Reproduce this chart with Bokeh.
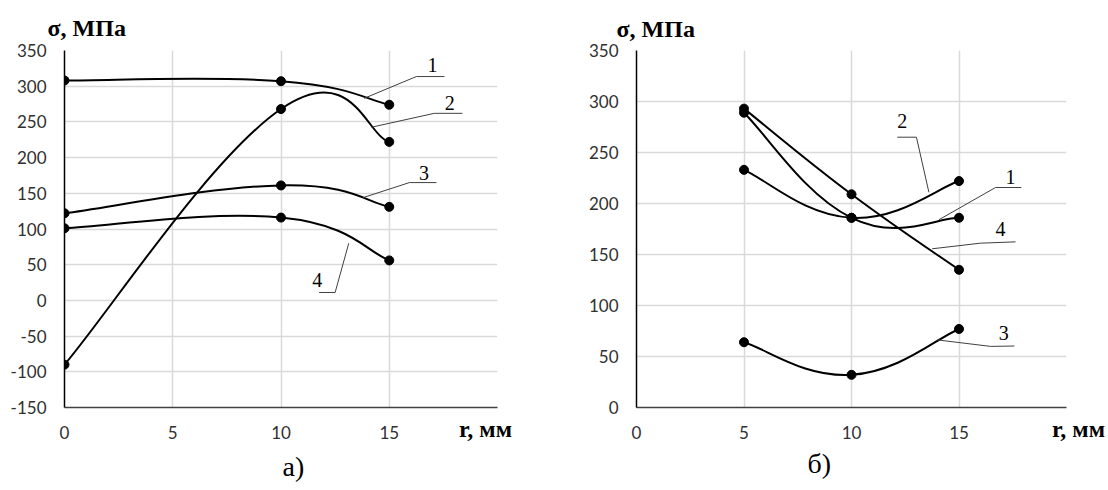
from bokeh.plotting import figure
from bokeh.layouts import row
from bokeh.models import Range1d, FixedTicker, Label, ColumnDataSource, Title
from bokeh.embed import file_html
from bokeh.resources import INLINE

# ---------------- data ----------------
r_a_pts = [0, 10, 15]
a_s1 = [308, 307, 274]
a_s2 = [-90, 268, 222]
a_s3 = [122, 161, 131]
a_s4 = [101, 116, 56]

r_b_pts = [5, 10, 15]
b_s1 = [289, 186, 186]
b_s2 = [233, 186, 222]
b_s3 = [64, 32, 77]
b_s4 = [293, 209, 135]

x_ticks = [0, 5, 10, 15, 20]
y_ticks_a = [-150, -100, -50, 0, 50, 100, 150, 200, 250, 300, 350]
y_ticks_b = [0, 50, 100, 150, 200, 250, 300, 350]

y_title = "σ, МПа"
x_title = "r, мм"
captions = ["а)", "б)"]

# ---------------- styling / layout ----------------
TICK_FONT = "Lato"
SERIF = "Liberation Serif"
GRID = "#d9d9d9"
NBSP = "\u00a0"

# callout geometry (data coordinates): text position and leader path
callouts_a = {
    "1": ((17.0, 329), [13.84, 16.25, 17.55], [283, 313.5, 313.5]),
    "2": ((17.8, 277), [14.17, 17.08, 18.38], [242.5, 262, 262]),
    "3": ((16.6, 179), [13.8, 15.93, 17.18], [144, 165, 165]),
    "4": ((11.68, 28.5), [13.13, 12.5, 11.76], [80, 11.1, 11.1]),
}
callouts_b = {
    "2": ((12.36, 280.7), [13.6, 13.02, 12.13], [211, 265, 265]),
    "1": ((17.4, 226), [14.06, 16.7, 17.9], [184, 215.7, 215.7]),
    "4": ((16.93, 174.7), [13.75, 16.0, 17.63], [155.6, 161.1, 162.4]),
    "3": ((17.08, 72.8), [13.98, 16.47, 17.58], [66.3, 59.9, 60.3]),
}


def smooth_segments(xs, ys, f=0.22):
    n = len(xs)
    d = dict(x0=[], y0=[], x1=[], y1=[], cx0=[], cy0=[], cx1=[], cy1=[])
    for i in range(n - 1):
        i0 = max(i - 1, 0)
        i3 = min(i + 2, n - 1)
        d["x0"].append(xs[i]); d["y0"].append(ys[i])
        d["x1"].append(xs[i + 1]); d["y1"].append(ys[i + 1])
        d["cx0"].append(xs[i] + (xs[i + 1] - xs[i0]) * f)
        d["cy0"].append(ys[i] + (ys[i + 1] - ys[i0]) * f)
        d["cx1"].append(xs[i + 1] - (xs[i3] - xs[i]) * f)
        d["cy1"].append(ys[i + 1] - (ys[i3] - ys[i]) * f)
    return d


def make_fig(width, yr, yticks, mb_left, mb_right, mb_top, mb_bottom):
    p = figure(width=width, height=490, output_backend="svg", toolbar_location=None,
               x_range=Range1d(0, 20), y_range=Range1d(*yr),
               min_border_left=mb_left, min_border_right=mb_right,
               min_border_top=mb_top, min_border_bottom=mb_bottom)
    p.outline_line_color = None
    p.background_fill_color = "white"
    p.border_fill_color = "white"
    p.xaxis.ticker = FixedTicker(ticks=x_ticks)
    p.xaxis.major_label_overrides = {20: ""}
    p.yaxis.ticker = FixedTicker(ticks=yticks)
    p.yaxis.major_label_overrides = {t: ("-%d" % -t) for t in yticks if t < 0}
    for ax in (p.xaxis, p.yaxis):
        ax.major_tick_line_color = None
        ax.minor_tick_line_color = None
        ax.major_tick_out = 0
        ax.major_tick_in = 0
        ax.minor_tick_out = 0
        ax.minor_tick_in = 0
        ax.major_label_text_font = TICK_FONT
        ax.major_label_text_font_size = "17px"
        ax.major_label_text_color = "#303030"
        ax.major_label_standoff = 18
        ax.axis_line_width = 1.5
    p.xaxis.axis_line_color = "#404040"
    p.yaxis.axis_line_color = "black"
    p.xgrid.ticker = FixedTicker(ticks=x_ticks)
    p.ygrid.ticker = FixedTicker(ticks=yticks)
    p.xgrid.grid_line_color = GRID
    p.ygrid.grid_line_color = GRID
    p.xgrid.grid_line_width = 1.5
    p.ygrid.grid_line_width = 1.5
    return p


def draw_series(p, xs, series):
    for ys in series:
        src = ColumnDataSource(smooth_segments(xs, ys))
        p.bezier(x0="x0", y0="y0", x1="x1", y1="y1", cx0="cx0", cy0="cy0",
                 cx1="cx1", cy1="cy1", source=src, line_color="black", line_width=2)
        p.scatter(xs, ys, size=9, color="black")


def draw_callouts(p, callouts):
    for name, ((tx, ty), lx, ly) in callouts.items():
        p.line(lx, ly, line_color="#404040", line_width=1)
        p.add_layout(Label(x=tx, y=ty, text=name, text_font=SERIF, text_font_size="20px",
                           text_align="center", text_baseline="middle", text_color="black"))


def add_titles(p, caption, sigma_offset, sigma_standoff, caption_offset, caption_standoff,
               xlabel_text):
    p.add_layout(Title(text=y_title, align="left", offset=sigma_offset,
                       standoff=sigma_standoff, vertical_align="top",
                       text_font=SERIF, text_font_style="bold", text_font_size="24px",
                       text_color="black"), "above")
    ax = p.xaxis[0]
    ax.axis_label = xlabel_text
    ax.axis_label_text_font = SERIF
    ax.axis_label_text_font_style = "bold"
    ax.axis_label_text_font_size = "24px"
    ax.axis_label_text_color = "black"
    ax.axis_label_standoff = -26
    if "axis_label_align" in ax.properties():
        ax.axis_label_align = "end"
    p.add_layout(Title(text=caption, align="left", offset=caption_offset,
                       standoff=caption_standoff,
                       text_font=SERIF, text_font_style="normal", text_font_size="28px",
                       text_color="black"), "below")


# ---- chart a ----
pa = make_fig(556, (-150, 350), y_ticks_a, 64, 59, 50, 83)
draw_series(pa, r_a_pts, [a_s1, a_s2, a_s3, a_s4])
draw_callouts(pa, callouts_a)
add_titles(pa, captions[0], -17, 15, 218, 8, x_title + NBSP * 4)

# ---- chart b ----
pb = make_fig(552, (0, 350), y_ticks_b, 80, 42, 49, 80)
draw_series(pb, r_b_pts, [b_s1, b_s2, b_s3, b_s4])
draw_callouts(pb, callouts_b)
add_titles(pb, captions[1], -20, 13, 171, 3, NBSP * 4 + x_title)

layout = row(pa, pb)
open("out.html", "w").write(file_html(layout, INLINE))
